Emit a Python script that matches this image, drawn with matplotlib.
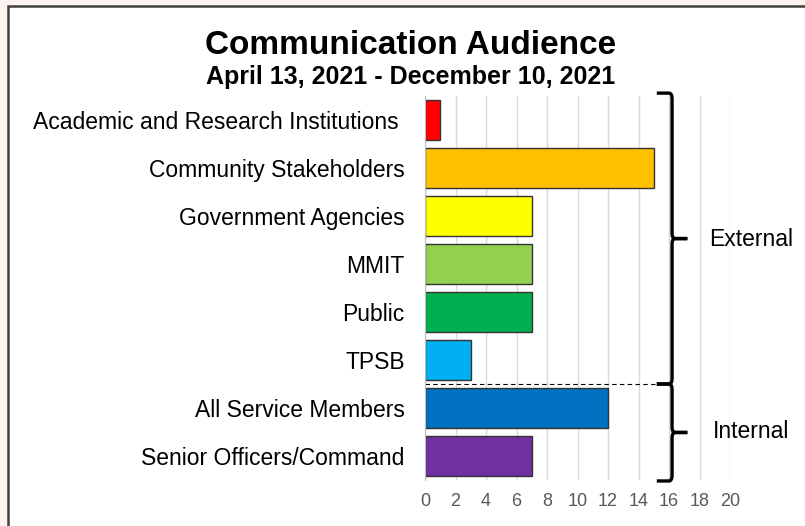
import matplotlib.pyplot as plt
from matplotlib.patches import Rectangle, PathPatch
from matplotlib.path import Path

plt.rcParams['font.family'] = ['Liberation Sans', 'DejaVu Sans']

# Data
audiences = ['Academic and Research Institutions ', 'Community Stakeholders',
             'Government Agencies', 'MMIT', 'Public', 'TPSB',
             'All Service Members', 'Senior Officers/Command']
counts = [1, 15, 7, 7, 7, 3, 12, 7]
colors = ['#FF0000', '#FFC000', '#FFFF00', '#92D050', '#00B050',
          '#00B0F0', '#0070C0', '#7030A0']
groups = ['External', 'Internal']
group_spans = [(-0.5, 5.5), (5.5, 7.5)]
x_ticks = list(range(0, 21, 2))

fig = plt.figure(figsize=(8.05, 5.26), dpi=100, facecolor='#fdf3f0')
# white chart area with dark frame
fig.patches.append(Rectangle((8 / 805, -0.1), 1.2, (526 - 6) / 526 + 0.1,
                             transform=fig.transFigure, facecolor='white',
                             edgecolor='#404040', linewidth=1.8, zorder=-1))

ax = fig.add_axes([425 / 805, 1 - 480 / 526, 305 / 805, 384 / 526])
ax.set_facecolor('none')

y = list(range(len(audiences)))
ax.barh(y, counts, height=0.83, color=colors, edgecolor='#333333',
        linewidth=1.0, zorder=3)

ax.set_xlim(0, 20)
ax.set_ylim(len(audiences) - 0.5, -0.5)
ax.set_xticks(x_ticks)
ax.set_yticks(y)
ax.set_yticklabels(audiences, fontsize=16.5, color='black')
ax.tick_params(axis='x', length=0, labelsize=13, labelcolor='#595959', pad=9)
ax.tick_params(axis='y', length=0, pad=14.5)
ax.grid(axis='x', color='#d9d9d9', linewidth=1.0, zorder=0)
for s in ['top', 'right', 'bottom']:
    ax.spines[s].set_visible(False)
ax.spines['left'].set_color('#bfbfbf')
ax.spines['left'].set_zorder(4)

# dashed separator between groups
ax.plot([0, 15.2], [5.5, 5.5], color='black', linestyle=(0, (4, 3)),
        linewidth=0.8, clip_on=False, zorder=4)


def brace(y0, y1, x0=15.2, x1=16.2, xt=17.2, r=0.12):
    ym = (y0 + y1) / 2
    verts = [(x0, y0), (x1 - 0.2, y0), (x1, y0), (x1, y0 + r),
             (x1, ym - r), (x1, ym), (x1 + 0.2, ym), (xt, ym),
             (x1 + 0.2, ym), (x1, ym), (x1, ym + r),
             (x1, y1 - r), (x1, y1), (x1 - 0.2, y1), (x0, y1)]
    codes = [Path.MOVETO, Path.LINETO, Path.CURVE3, Path.CURVE3,
             Path.LINETO, Path.CURVE3, Path.CURVE3, Path.LINETO,
             Path.LINETO, Path.CURVE3, Path.CURVE3,
             Path.LINETO, Path.CURVE3, Path.CURVE3, Path.LINETO]
    ax.add_patch(PathPatch(Path(verts, codes), facecolor='none',
                           edgecolor='black', linewidth=2.4,
                           clip_on=False, zorder=5))


for name, (a, b) in zip(groups, group_spans):
    brace(a - (0.06 if a < 0 else 0), b + (0.02 if b > 7 else 0))
    ax.text(21.4, (a + b) / 2, name, fontsize=16.5, va='center',
            ha='center', clip_on=False)

fig.text(0.51, 0.914, 'Communication Audience', fontsize=24,
         fontweight='bold', ha='center', va='center')
fig.text(0.51, 0.853, 'April 13, 2021 - December 10, 2021', fontsize=18,
         fontweight='bold', ha='center', va='center')

fig.savefig('out.png', dpi=100, facecolor=fig.get_facecolor())
